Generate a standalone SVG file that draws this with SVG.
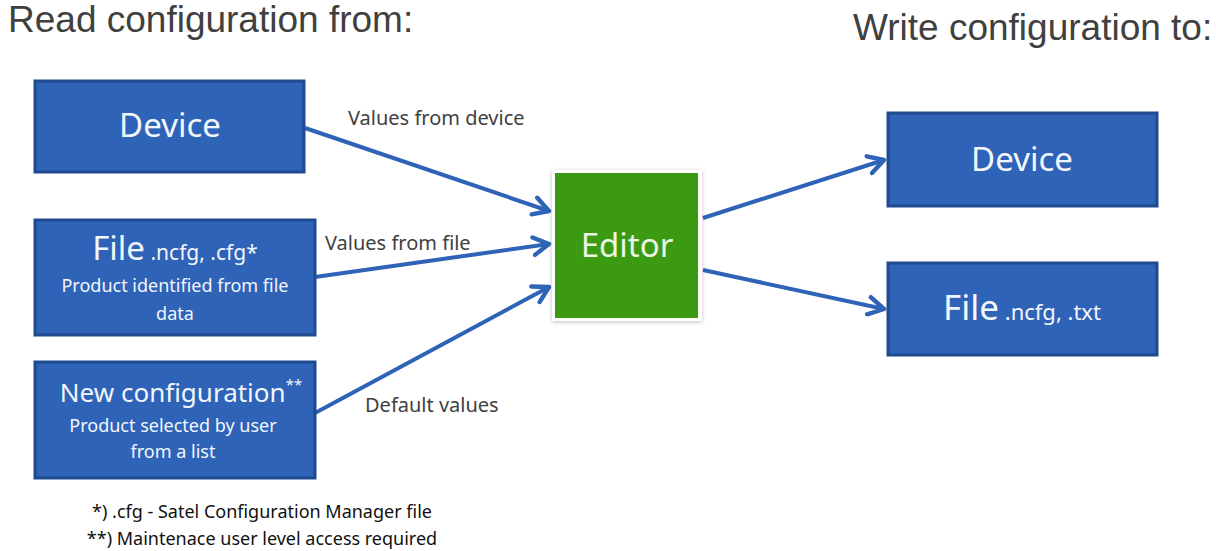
<svg xmlns="http://www.w3.org/2000/svg" width="1216" height="551" viewBox="0 0 1216 551">
<style>
.title{font-family:"Liberation Sans",Arial,sans-serif;font-size:37px;fill:#404040}
.box{fill:#2E63B8;stroke:#1F4A8E;stroke-width:3}
.big{font-family:"Noto Sans","Open Sans",sans-serif;font-size:33px;fill:#F2F6FC}
.mid{font-family:"Noto Sans","Open Sans",sans-serif;font-size:21px;fill:#F2F6FC}
.sub{font-family:"Noto Sans","Open Sans",sans-serif;font-size:18px;fill:#F2F6FC}
.lbl{font-family:"Noto Sans","Open Sans",sans-serif;font-size:20px;fill:#404040}
.note{font-family:"Noto Sans","Open Sans",sans-serif;font-size:18px;fill:#111}
.conn{stroke:#2E63B8;stroke-width:4;fill:none;marker-end:url(#ah)}
</style>
<defs>
<marker id="ah" viewBox="0 0 10 10" refX="8" refY="5" markerWidth="5.5" markerHeight="5.5" orient="auto" markerUnits="strokeWidth">
<path d="M1,1 L8,5 L1,9" fill="none" stroke="#2E63B8" stroke-width="2" stroke-linecap="round" stroke-linejoin="round"/>
</marker>
<filter id="sh" x="-10%" y="-10%" width="120%" height="120%">
<feDropShadow dx="0" dy="1" stdDeviation="2" flood-color="#000" flood-opacity="0.25"/>
</filter>
</defs>
<rect width="1216" height="551" fill="#fff"/>
<text class="title" x="8" y="32">Read configuration from:</text>
<text class="title" x="853" y="40">Write configuration to:</text>

<g id="connectors">
<line class="conn" x1="305" y1="128" x2="549" y2="211"/>
<line class="conn" x1="315" y1="277" x2="549" y2="244"/>
<line class="conn" x1="315" y1="413" x2="549" y2="287"/>
<line class="conn" x1="703" y1="218" x2="884" y2="160"/>
<line class="conn" x1="703" y1="270" x2="884" y2="309"/>
<text class="lbl" x="348" y="125">Values from device</text>
<text class="lbl" x="325" y="250">Values from file</text>
<text class="lbl" x="365" y="412">Default values</text>
</g>

<g id="read-device">
<rect class="box" x="35" y="81" width="269" height="91"/>
<text class="big" x="170" y="137" text-anchor="middle">Device</text>
</g>

<g id="read-file">
<rect class="box" x="35" y="220" width="280" height="115"/>
<text x="175" y="260" text-anchor="middle"><tspan class="big">File</tspan><tspan class="mid"> .ncfg, .cfg*</tspan></text>
<text class="sub" x="175" y="292" text-anchor="middle">Product identified from file</text>
<text class="sub" x="175" y="320" text-anchor="middle">data</text>
</g>

<g id="read-new">
<rect class="box" x="35" y="362" width="280" height="116"/>
<text x="181" y="402" text-anchor="middle"><tspan class="mid" style="font-size:26px">New configuration</tspan><tspan class="sub" style="font-size:15px" dy="-12">**</tspan></text>
<text class="sub" x="173" y="432" text-anchor="middle">Product selected by user</text>
<text class="sub" x="173" y="458" text-anchor="middle">from a list</text>
</g>

<g id="editor">
<rect x="552" y="170" width="150" height="151" fill="#fff" filter="url(#sh)"/>
<rect x="555" y="173" width="143" height="145" fill="#3C9A12"/>
<text class="big" x="627" y="257" text-anchor="middle" style="fill:#EAF5E4">Editor</text>
</g>

<g id="write-device">
<rect class="box" x="888" y="113" width="269" height="93"/>
<text class="big" x="1022" y="171" text-anchor="middle">Device</text>
</g>

<g id="write-file">
<rect class="box" x="888" y="263" width="269" height="92"/>
<text x="1022" y="320" text-anchor="middle"><tspan class="big" style="font-size:35px">File</tspan><tspan class="mid" style="font-size:22px"> .ncfg, .txt</tspan></text>
</g>

<g id="notes">
<text class="note" x="262" y="518" text-anchor="middle">*) .cfg - Satel Configuration Manager file</text>
<text class="note" x="262" y="545" text-anchor="middle">**) Maintenace user level access required</text>
</g>
</svg>
